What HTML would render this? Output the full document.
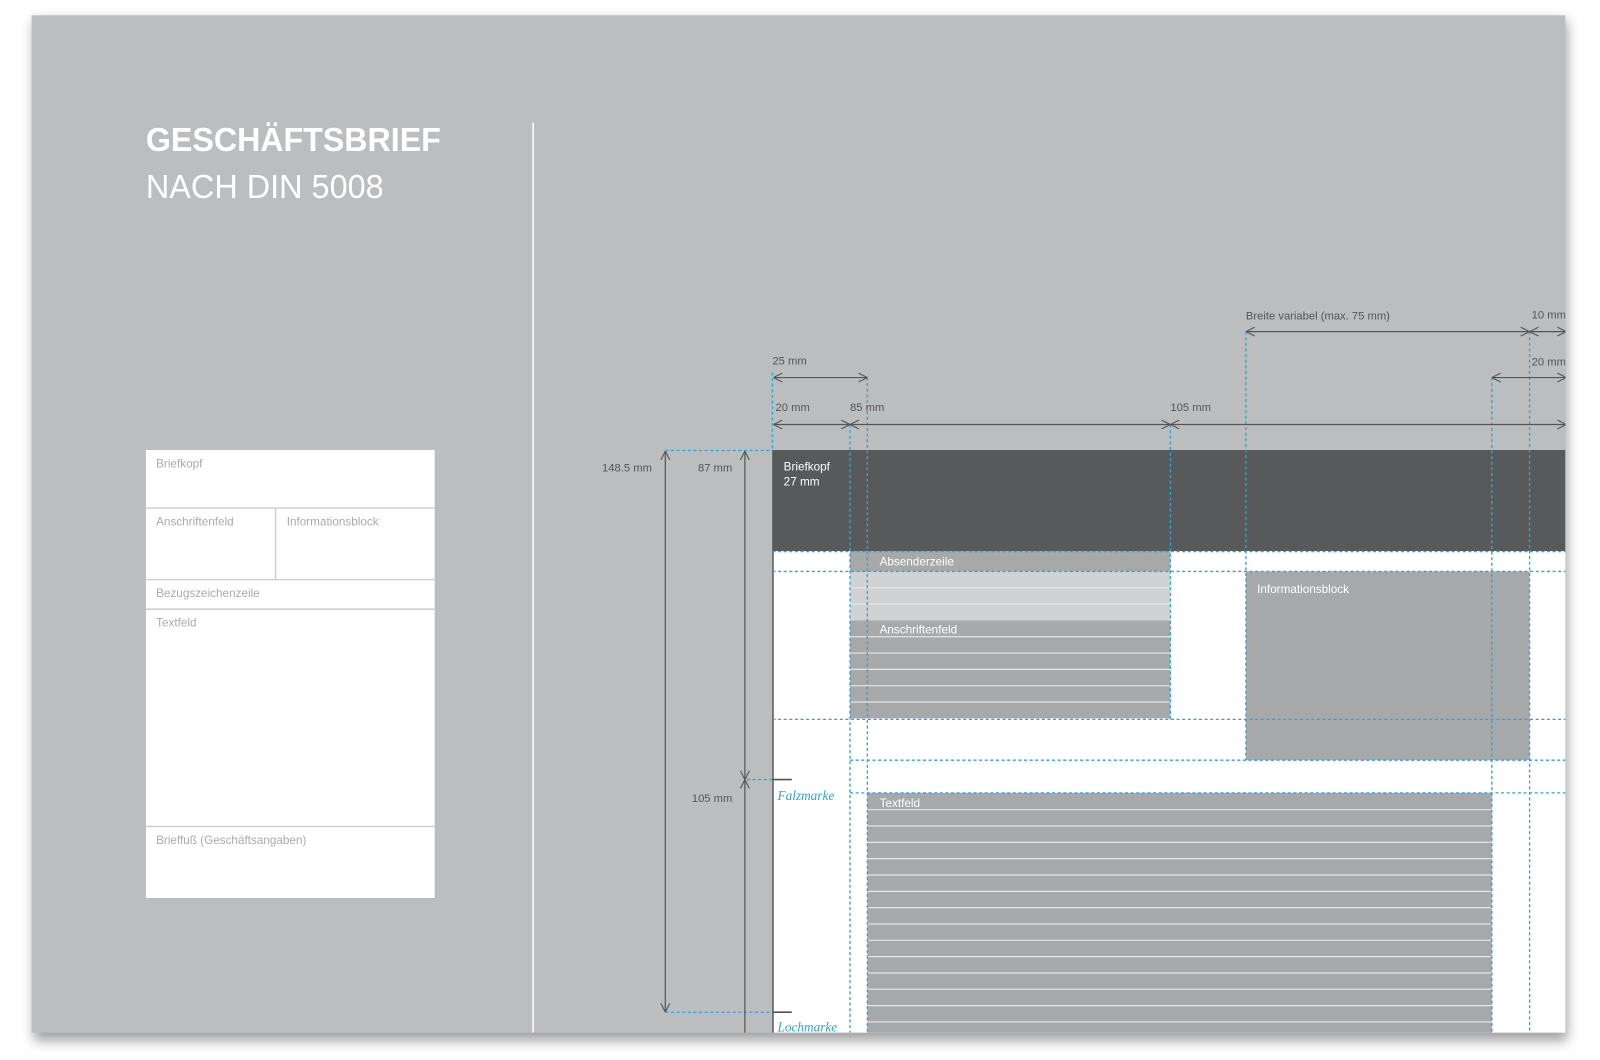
<!DOCTYPE html>
<html><head><meta charset="utf-8"><style>
html,body{margin:0;padding:0;background:#fff;width:1600px;height:1060px;overflow:hidden}
svg{display:block}
.s{font-family:"Liberation Sans",sans-serif}
</style></head><body>
<svg width="1600" height="1060" viewBox="0 0 1568 1038.8" preserveAspectRatio="none" xmlns="http://www.w3.org/2000/svg">
<defs>
<filter id="sh" x="-5%" y="-5%" width="110%" height="112%"><feGaussianBlur stdDeviation="6"/></filter>
<clipPath id="pg"><rect x="31" y="15" width="1503" height="997"/></clipPath>
<marker id="a" viewBox="0 0 10 10" refX="10" refY="5" markerWidth="9" markerHeight="9" orient="auto-start-reverse"><path d="M2,1 L10,5 L2,9" fill="none" stroke="#555" stroke-width="1"/></marker>
</defs>
<rect x="33" y="20" width="1503" height="1000" fill="#555" opacity="0.55" filter="url(#sh)"/>
<rect x="31" y="15" width="1503" height="997" fill="#bcbdbf"/>
<g clip-path="url(#pg)">
<text class="s" x="143" y="148" font-size="33" font-weight="bold" fill="#fff" textLength="289" lengthAdjust="spacingAndGlyphs">GESCHÄFTSBRIEF</text>
<text class="s" x="143" y="194" font-size="33" fill="#fff" textLength="233" lengthAdjust="spacingAndGlyphs">NACH DIN 5008</text>
<line x1="522.5" y1="120" x2="522.5" y2="1012" stroke="#fff" stroke-width="1.5"/>
<rect x="143" y="441" width="283" height="439" fill="#fff"/>
<g stroke="#cfd0d1" stroke-width="1.5">
<line x1="143" y1="498" x2="426" y2="498"/><line x1="143" y1="568" x2="426" y2="568"/>
<line x1="143" y1="597" x2="426" y2="597"/><line x1="143" y1="810" x2="426" y2="810"/>
<line x1="270" y1="498" x2="270" y2="568"/></g>
<g class="s" font-size="11.5" fill="#a9aaac">
<text x="153" y="458">Briefkopf</text><text x="153" y="515">Anschriftenfeld</text>
<text x="281" y="515">Informationsblock</text><text x="153" y="585">Bezugszeichenzeile</text>
<text x="153" y="614">Textfeld</text><text x="153" y="827">Brieffuß (Geschäftsangaben)</text></g>

<rect x="757" y="441" width="780" height="580" fill="#fff"/>
<rect x="757" y="441" width="780" height="99" fill="#58595b"/>
<line x1="757.5" y1="441" x2="757.5" y2="1012" stroke="#58595b" stroke-width="1.5"/>
<rect x="833" y="540" width="314" height="20" fill="#a7a8aa"/>
<rect x="833" y="560" width="314" height="48" fill="#d1d2d4"/>
<rect x="833" y="608" width="314" height="96" fill="#a7a8aa"/>
<g stroke="#e4e5e6" stroke-width="1.2">
<line x1="833" y1="576" x2="1147" y2="576"/><line x1="833" y1="592" x2="1147" y2="592"/>
<line x1="833" y1="624" x2="1147" y2="624"/><line x1="833" y1="640" x2="1147" y2="640"/>
<line x1="833" y1="656" x2="1147" y2="656"/><line x1="833" y1="672" x2="1147" y2="672"/>
<line x1="833" y1="688" x2="1147" y2="688"/></g>
<rect x="1221" y="560" width="278" height="185" fill="#a7a8aa"/>
<rect x="850" y="777" width="612" height="240" fill="#a7a8aa"/>
<g stroke="#e4e5e6" stroke-width="1.2">
<line x1="850" y1="793.5" x2="1462" y2="793.5"/><line x1="850" y1="809.5" x2="1462" y2="809.5"/>
<line x1="850" y1="825.5" x2="1462" y2="825.5"/><line x1="850" y1="841.5" x2="1462" y2="841.5"/>
<line x1="850" y1="857.5" x2="1462" y2="857.5"/><line x1="850" y1="873.5" x2="1462" y2="873.5"/>
<line x1="850" y1="889.5" x2="1462" y2="889.5"/><line x1="850" y1="905.5" x2="1462" y2="905.5"/>
<line x1="850" y1="921.5" x2="1462" y2="921.5"/><line x1="850" y1="937.5" x2="1462" y2="937.5"/>
<line x1="850" y1="953.5" x2="1462" y2="953.5"/><line x1="850" y1="969.5" x2="1462" y2="969.5"/>
<line x1="850" y1="985.5" x2="1462" y2="985.5"/><line x1="850" y1="1001.5" x2="1462" y2="1001.5"/></g>
<g class="s" font-size="11.5" fill="#fff">
<text x="768" y="461">Briefkopf</text><text x="768" y="476">27 mm</text>
<text x="862" y="554">Absenderzeile</text><text x="862" y="621">Anschriftenfeld</text>
<text x="1232" y="581">Informationsblock</text><text x="862" y="791">Textfeld</text></g>

<g stroke="#2aa6d9" stroke-width="1.3" stroke-dasharray="3,2.5" fill="none">
<line x1="652" y1="441.5" x2="757" y2="441.5"/>
<line x1="757" y1="540.5" x2="1540" y2="540.5"/>
<line x1="757" y1="560" x2="1540" y2="560"/>
<line x1="757" y1="705" x2="1540" y2="705"/>
<line x1="833" y1="745" x2="1540" y2="745"/>
<line x1="833" y1="777" x2="1540" y2="777"/>
<line x1="732" y1="764" x2="757" y2="764"/>
<line x1="652" y1="992" x2="757" y2="992"/>
<line x1="757" y1="365" x2="757" y2="441"/>
<line x1="833" y1="416" x2="833" y2="1012"/>
<line x1="850" y1="370" x2="850" y2="1012"/>
<line x1="1147" y1="416" x2="1147" y2="705"/>
<line x1="1221" y1="325" x2="1221" y2="745"/>
<line x1="1462" y1="370" x2="1462" y2="1012"/>
<line x1="1499" y1="325" x2="1499" y2="1012"/></g>

<g stroke="#555" stroke-width="1.2" fill="none">
<line x1="758" y1="370" x2="850" y2="370" marker-start="url(#a)" marker-end="url(#a)"/>
<line x1="758" y1="416" x2="833" y2="416" marker-start="url(#a)" marker-end="url(#a)"/>
<line x1="833" y1="416" x2="1147" y2="416" marker-start="url(#a)" marker-end="url(#a)"/>
<line x1="1147" y1="416" x2="1535" y2="416" marker-start="url(#a)" marker-end="url(#a)"/>
<line x1="1221" y1="325" x2="1499" y2="325" marker-start="url(#a)" marker-end="url(#a)"/>
<line x1="1499" y1="325" x2="1535" y2="325" marker-start="url(#a)" marker-end="url(#a)"/>
<line x1="1462" y1="370" x2="1535" y2="370" marker-start="url(#a)" marker-end="url(#a)"/>
<line x1="652" y1="442" x2="652" y2="992" marker-start="url(#a)" marker-end="url(#a)"/>
<line x1="730" y1="442" x2="730" y2="764" marker-start="url(#a)" marker-end="url(#a)"/>
<line x1="730" y1="764" x2="730" y2="1012" marker-start="url(#a)"/>
<line x1="757" y1="764" x2="776" y2="764" stroke-width="1.6"/>
<line x1="757" y1="992" x2="776" y2="992" stroke-width="1.6"/></g>

<g class="s" font-size="11" fill="#555">
<text x="757" y="357">25 mm</text><text x="760" y="403">20 mm</text>
<text x="833" y="403">85 mm</text><text x="1147" y="403">105 mm</text>
<text x="1221" y="313">Breite variabel (max. 75 mm)</text>
<text x="1501" y="312">10 mm</text><text x="1501" y="358">20 mm</text>
<text x="590" y="462">148.5 mm</text><text x="684" y="462">87 mm</text>
<text x="678" y="786">105 mm</text></g>
<g font-family="Liberation Serif,serif" font-style="italic" font-size="13" fill="#2aa6d9">
<text x="762" y="784">Falzmarke</text><text x="762" y="1011">Lochmarke</text></g>
</g>
</svg>
</body></html>
